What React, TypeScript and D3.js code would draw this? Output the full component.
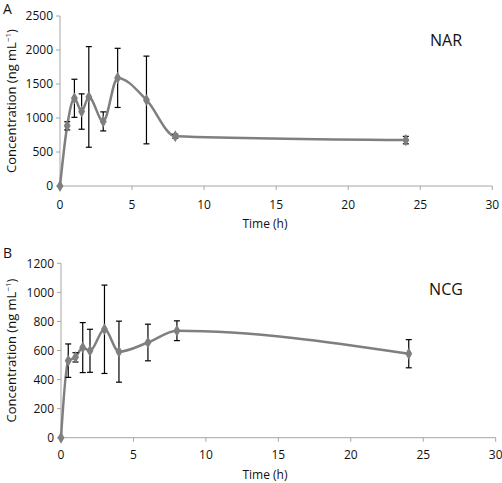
import React from "react";
import * as d3 from "d3";

const times = [0, 0.5, 1, 1.5, 2, 3, 4, 6, 8, 24];
const narMean = [0, 885, 1290, 1095, 1310, 950, 1590, 1265, 732, 675];
const narErr = [0, 60, 280, 260, 740, 140, 435, 645, 30, 55];
const ncgMean = [0, 530, 553, 620, 598, 746, 592, 655, 736, 578];
const ncgErr = [0, 115, 32, 172, 148, 304, 210, 126, 68, 97];
const xTicks = [0, 5, 10, 15, 20, 25, 30];
const narTicks = [0, 500, 1000, 1500, 2000, 2500];
const ncgTicks = [0, 200, 400, 600, 800, 1000, 1200];

const FONT = "'Open Sans', 'Noto Sans', sans-serif";
const AXIS = "#a6a6a6";
const LINE = "#7f7f7f";

type PanelProps = {
  letter: string;
  name: string;
  mean: number[];
  err: number[];
  ticks: number[];
  x0: number;
  x1: number;
  y0: number;
  y1: number;
  letterY: number;
  nameY: number;
  tickGap: number;
  titleGap: number;
};

function Panel({ letter, name, mean, err, ticks, x0, x1, y0, y1, letterY, nameY, tickGap, titleGap }: PanelProps) {
  const x = d3.scaleLinear().domain([0, 30]).range([x0, x1]);
  const y = d3.scaleLinear().domain([0, ticks[ticks.length - 1]]).range([y0, y1]);
  const pts: [number, number][] = times.map((t, i) => [x(t), y(mean[i])]);
  const line = d3.line().curve(d3.curveMonotoneX)(pts) || "";
  const diamond = d3.symbol().type(d3.symbolDiamond).size(42)() || "";
  return (
    <g>
      <text x={3} y={letterY} fontSize={14} fontFamily={FONT} fill="#111">{letter}</text>
      <line x1={x0} x2={x0} y1={y0} y2={y1} stroke={AXIS} strokeWidth={1} />
      <line x1={x0} x2={x1} y1={y0} y2={y0} stroke={AXIS} strokeWidth={1} />
      {ticks.map((v) => (
        <g key={"y" + v}>
          <line x1={x0 - 4} x2={x0} y1={y(v)} y2={y(v)} stroke={AXIS} />
          <text x={x0 - 7} y={y(v)} dy="0.35em" textAnchor="end" fontSize={12} fontFamily={FONT} fill="#111">{v}</text>
        </g>
      ))}
      {xTicks.map((v) => (
        <g key={"x" + v}>
          <line x1={x(v)} x2={x(v)} y1={y0} y2={y0 + 4} stroke={AXIS} />
          <text x={x(v)} y={y0 + tickGap} dy="0.35em" textAnchor="middle" fontSize={12} fontFamily={FONT} fill="#111">{v}</text>
        </g>
      ))}
      <text x={265} y={y0 + titleGap} dy="0.35em" textAnchor="middle" fontSize={12} fontFamily={FONT} fill="#111">Time (h)</text>
      <text transform={`translate(16,${(y0 + y1) / 2}) rotate(-90)`} textAnchor="middle" fontSize={13} fontFamily={FONT} fill="#111">
        Concentration (ng mL<tspan fontSize={8} dy={-5}>−1</tspan><tspan dy={5}>)</tspan>
      </text>
      <text x={446} y={nameY} dy="0.35em" textAnchor="middle" fontSize={16} fontFamily={FONT} fill="#111">{name}</text>
      <path d={line} fill="none" stroke={LINE} strokeWidth={2.5} />
      {times.map((t, i) =>
        err[i] > 0 ? (
          <g key={"e" + i} stroke="#000" strokeWidth={1.2}>
            <line x1={x(t)} x2={x(t)} y1={y(mean[i] - err[i])} y2={y(mean[i] + err[i])} />
            <line x1={x(t) - 3} x2={x(t) + 3} y1={y(mean[i] - err[i])} y2={y(mean[i] - err[i])} />
            <line x1={x(t) - 3} x2={x(t) + 3} y1={y(mean[i] + err[i])} y2={y(mean[i] + err[i])} />
          </g>
        ) : null
      )}
      {times.map((t, i) => (
        <path key={"m" + i} d={diamond} transform={`translate(${x(t)},${y(mean[i])})`} fill={LINE} />
      ))}
    </g>
  );
}

export default function App() {
  return (
    <svg width={502} height={483} style={{ position: "absolute", left: 0, top: 0, background: "#fff" }}>
      <rect width={502} height={483} fill="#fff" />
      <Panel letter="A" name="NAR" mean={narMean} err={narErr} ticks={narTicks}
        x0={60} x1={492.3} y0={186} y1={16} letterY={14} nameY={40} tickGap={18.5} titleGap={37.5} />
      <Panel letter="B" name="NCG" mean={ncgMean} err={ncgErr} ticks={ncgTicks}
        x0={61} x1={495.7} y0={437.7} y1={263.3} letterY={258} nameY={289} tickGap={17} titleGap={37} />
    </svg>
  );
}
